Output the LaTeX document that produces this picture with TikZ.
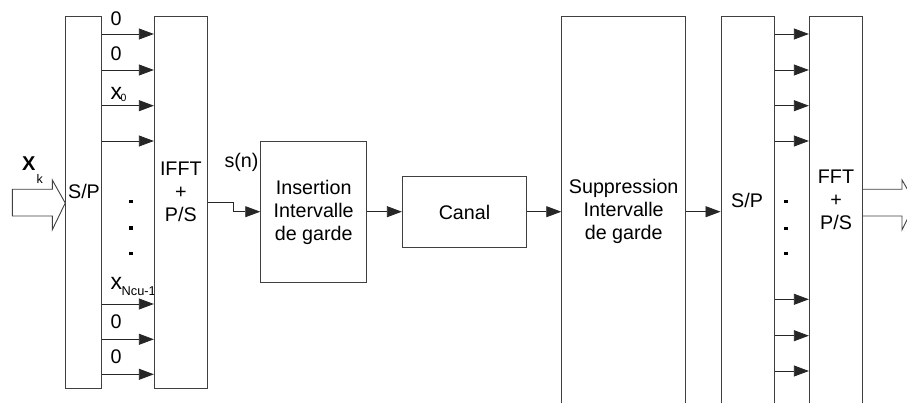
\documentclass[tikz,border=0pt]{standalone}
\usepackage{fontspec}
\setmainfont{Liberation Sans}
\usetikzlibrary{arrows.meta}
\begin{document}
\begin{tikzpicture}[x=1pt,y=-1pt,
 box/.style={draw=black!75, line width=0.9pt, fill=white, inner sep=0pt},
 arr/.style={-{Triangle[length=15pt,width=11pt]}, line width=0.8pt, draw=black!85},
 txt/.style={font=\fontsize{19.7}{23}\selectfont, align=center, inner sep=0pt},
 lab/.style={font=\fontsize{19.7}{23}\selectfont, anchor=west, inner sep=0pt},
 dotm/.style={fill=black, minimum size=3.2pt, inner sep=0pt}
]
\useasboundingbox (0,0) rectangle (907,403);
\begin{scope}
\clip (0,0) rectangle (907,403);
% left S/P
\node[box, minimum width=35.6pt, minimum height=371.6pt] (sp1) at (83.5,202.5) {};
\node[txt] (sp1t) at (84,191) {S/P};
% input hollow arrow
\draw[box] (12.3,189.3) -- (52.3,189.3) -- (52.3,180) -- (sp1.west |- 0,203) -- (52.3,229.8) -- (52.3,216) -- (12.3,216) -- cycle;
\node[inner sep=0pt, anchor=base west, font=\fontsize{20}{20}\selectfont\bfseries] (xk) at (21.8,171) {X};
\node[inner sep=0pt, anchor=base west, font=\fontsize{12.5}{12}\selectfont] (xks) at (36.5,183.5) {k};
% labels on left arrows
\node[lab] (l1) at (110.5,18.5) {0};
\node[lab] (l2) at (110.5,53.5) {0};
\node[inner sep=0pt, anchor=base west, font=\fontsize{23}{23}\selectfont] (l3) at (110.5,99.5) {x};
\node[inner sep=0pt, anchor=base west, font=\fontsize{10.5}{10}\selectfont] (l3s) at (120.3,101.5) {0};
\node[inner sep=0pt, anchor=base west, font=\fontsize{23}{23}\selectfont] (l4) at (110.5,290) {x};
\node[inner sep=0pt, anchor=base west, font=\fontsize{12.8}{12}\selectfont] (l4s) at (121.5,295.5) {Ncu-1};
\node[lab] (l5) at (110.5,321.5) {0};
\node[lab] (l6) at (110.5,356.5) {0};
% dots
\node[dotm] (d1) at (131,201.7) {};
\node[dotm] (d2) at (131,228) {};
\node[dotm] (d3) at (131,253.3) {};
% IFFT
\node[box, minimum width=53pt, minimum height=371.6pt] (ifft) at (180.8,202.5) {};
\node[txt] (iffTt) at (180.8,192) {IFFT\\+\\P/S};
\foreach \yy in {34,70,105.7,141,304,339.3,374.3}
  \draw[arr] (sp1.east |- 0,\yy) -- (ifft.west |- 0,\yy);
% s(n)
\node[txt] (sn) at (241.5,162) {s(n)};
% Insertion
\node[box, minimum width=106pt, minimum height=141.3pt] (ins) at (313.7,211.7) {};
\node[txt] (inst) at (313.7,212) {Insertion\\Intervalle\\de garde};
\coordinate (bend) at (233,202);
\draw[arr] (ifft.east |- bend) -- (bend) -- (bend |- ins.west) -- (ins.west);
% Canal
\node[box, minimum width=124.4pt, minimum height=71.3pt] (canal) at (464.5,211.7) {};
\node[txt] (canalt) at (464.5,212) {Canal};
\draw[arr] (ins.east) -- (canal.west);
% Suppression
\node[box, minimum width=124pt, minimum height=413.3pt] (supp) at (623.7,223.35) {};
\node[txt] (suppt) at (623.7,211.5) {Suppression\\Intervalle\\de garde};
\draw[arr] (canal.east) -- (canal.east -| supp.west);
% right S/P
\node[box, minimum width=53.3pt, minimum height=413.3pt] (sp2) at (747.65,223.35) {};
\node[txt] (sp2t) at (747,200) {S/P};
\draw[arr] (supp.east |- canal.east) -- (sp2.west |- canal.east);
% FFT
\node[box, minimum width=53.4pt, minimum height=413.3pt] (fft) at (836,223.35) {};
\node[txt] (fftt) at (836,200) {FFT\\+\\P/S};
\foreach \yy in {34,70,105.7,141,299.3,335.7,371}
  \draw[arr] (sp2.east |- 0,\yy) -- (fft.west |- 0,\yy);
\node[dotm] (e1) at (786,201.7) {};
\node[dotm] (e2) at (786,228.3) {};
\node[dotm] (e3) at (786,253.3) {};
% output hollow arrow
\draw[box, fill=none] (fft.east |- 0,189.3) -- (902,189.3) -- (902,180) -- (915.5,203) -- (902,229.8) -- (902,216) -- (fft.east |- 0,216);
\end{scope}
\end{tikzpicture}
\end{document}
